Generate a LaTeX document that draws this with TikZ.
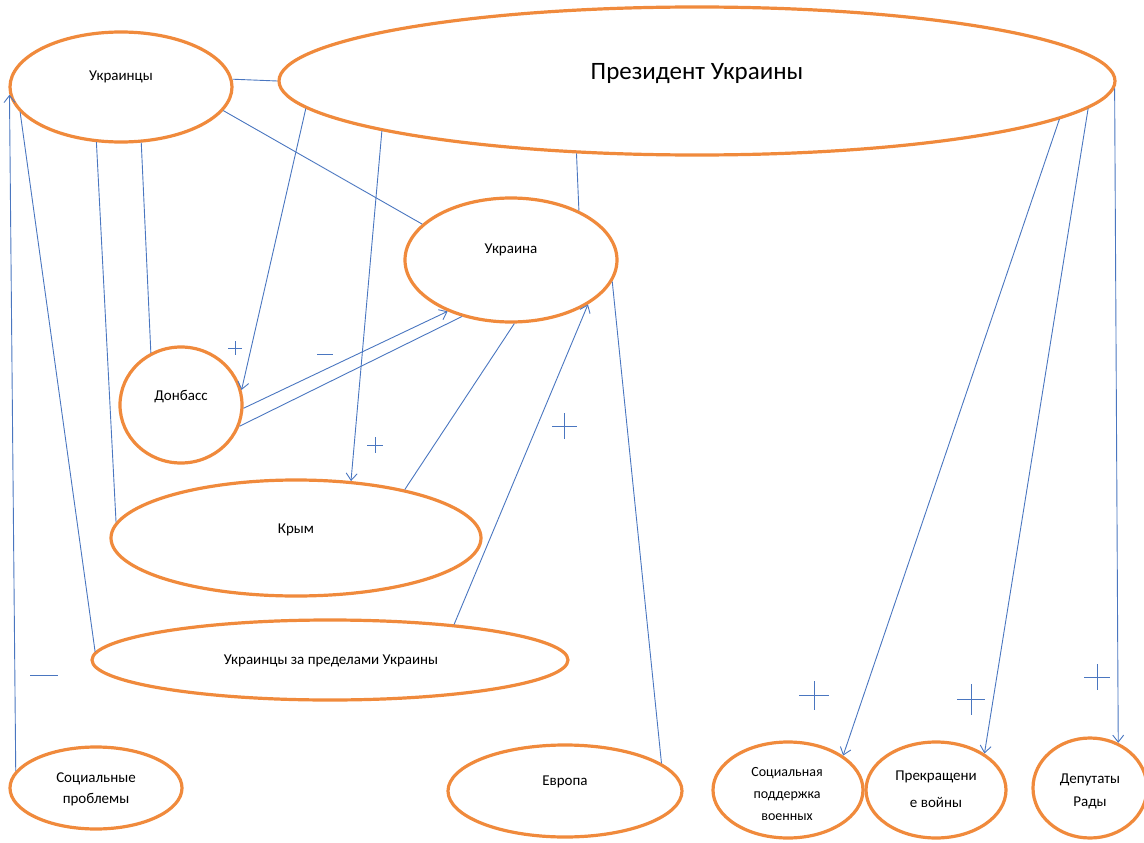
\documentclass[tikz,border=0pt]{standalone}
\usepackage{fontspec}
\setmainfont{Carlito}
\usetikzlibrary{shapes.geometric,arrows.meta}
\definecolor{obrd}{HTML}{F08A3C}
\definecolor{lblue}{HTML}{4A76C0}
\begin{document}
\begin{tikzpicture}[x=1pt,y=-1pt,
  ell/.style={ellipse, draw=obrd, line width=3.2pt, inner sep=0pt, fill=white},
  lnk/.style={draw=lblue, line width=0.9pt},
  arr/.style={lnk, -{Straight Barb[length=7pt,width=11pt]}},
  lbl/.style={font=\fontsize{15}{21}\selectfont, text=black, align=center, inner sep=0pt},
  big/.style={font=\fontsize{25}{30}\selectfont, text=black, inner sep=0pt},
  sgn/.style={draw=lblue, line width=1pt}]
\useasboundingbox (0,0) rectangle (1144,843);

% ellipses
\node[ell, minimum width=222pt, minimum height=110pt] (ukrs) at (121,87) {};
\node[ell, minimum width=836pt, minimum height=148pt] (pres) at (697,81) {};
\node[ell, minimum width=212pt, minimum height=124pt] (ukr) at (511,260) {};
\node[ell, minimum width=122pt, minimum height=116pt] (don) at (181,405) {};
\node[ell, minimum width=370pt, minimum height=116pt] (krym) at (296,538) {};
\node[ell, minimum width=476pt, minimum height=80pt] (abroad) at (330,660) {};
\node[ell, minimum width=172pt, minimum height=82pt] (soc) at (96,788) {};
\node[ell, minimum width=234pt, minimum height=92pt] (evr) at (565,791) {};
\node[ell, minimum width=150pt, minimum height=96pt] (supp) at (788,790) {};
\node[ell, minimum width=140pt, minimum height=96pt] (stop) at (936,790) {};
\node[ell, minimum width=114pt, minimum height=100pt] (dep) at (1090,788) {};

% texts
\node[lbl] (tukrs) at (121,77) {Украинцы};
\node[big] (tpres) at (697,74) {Президент Украины};
\node[lbl] (tukr) at (511,250) {Украина};
\node[lbl] (tdon) at (181,397) {Донбасс};
\node[lbl] (tkrym) at (296,530) {Крым};
\node[lbl] (tabroad) at (331,661) {Украинцы за пределами Украины};
\node[lbl] (tsoc) at (96,789) {Социальные\\проблемы};
\node[lbl] (tevr) at (565,782) {Европа};
\node[lbl, font=\fontsize{14}{22}\selectfont] (tsupp) at (787,794) {Социальная\\поддержка\\военных};
\node[lbl, font=\fontsize{15}{27}\selectfont] (tstop) at (936,789) {Прекращени\\е войны};
\node[lbl, font=\fontsize{15}{23}\selectfont] (tdep) at (1090,791) {Депутаты\\Рады};

% connectors
\draw[lnk] (ukrs.4) -- (pres.180);
\draw[lnk] (ukrs.347) -- (ukr.158);
\draw[lnk] (ukrs.246) -- (krym.175);
\draw[lnk] (ukrs.290) -- (don.120);
\draw[lnk] (ukrs.194) -- (abroad.178);
\draw[arr] (soc.168) -- (ukrs.184);
\draw[arr] (pres.184.5) -- (don.14);
\draw[arr] (pres.189) -- (krym.46);
\draw[lnk] (pres.211) -- (ukr.36);
\draw[arr] (don.357) -- (ukr.219);
\draw[lnk] (don.340) -- (ukr.229);
\draw[lnk] (ukr.273) -- (krym.24);
\draw[arr] (abroad.16) -- (ukr.330);
\draw[lnk] (ukr.348) -- (evr.16);
\draw[arr] (pres.354) -- (supp.32);
\draw[arr] (pres.356) -- (stop.37);
\draw[arr] (pres.359) -- (dep.58);

% signs
\draw[sgn] (228,348) -- (242,348) (235,341) -- (235,355);
\draw[sgn] (317,354) -- (333,354);
\draw[sgn] (367,445) -- (383,445) (375,437) -- (375,453);
\draw[sgn] (552,426) -- (577,426) (564,413) -- (564,439);
\draw[sgn] (30,675) -- (58,675);
\draw[sgn] (799,695) -- (829,695) (814,681) -- (814,710);
\draw[sgn] (957,699) -- (985,699) (971,684) -- (971,715);
\draw[sgn] (1084,677) -- (1110,677) (1097,664) -- (1097,690);
\end{tikzpicture}
\end{document}
